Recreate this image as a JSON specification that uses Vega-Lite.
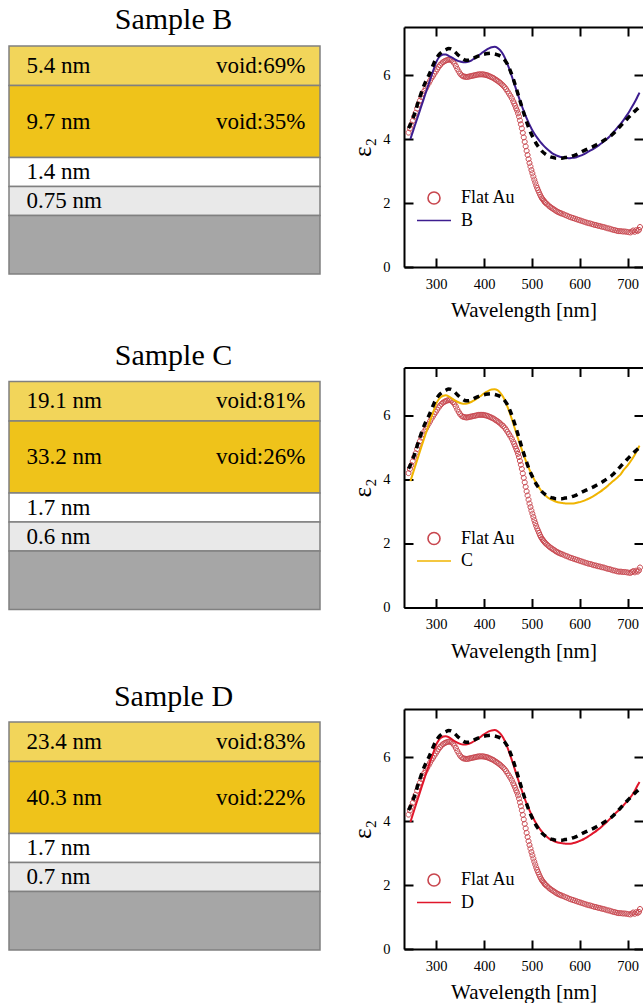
{
  "$schema": "https://vega.github.io/schema/vega-lite/v6.json",
  "padding": {"left": 8, "top": 5, "right": 0, "bottom": 0},
  "config": {
    "font": "Liberation Serif",
    "view": {"stroke": null},
    "axis": {"grid": false, "domainColor": "black", "tickColor": "black", "labelColor": "black", "titleColor": "black", "labelFont": "Liberation Serif", "titleFont": "Liberation Serif", "titleFontWeight": "normal", "labelFontSize": 14.5, "domainWidth": 2, "tickWidth": 2, "tickSize": -9, "labelFlush": false, "labelOverlap": false},
    "title": {"font": "Liberation Serif", "fontWeight": "normal", "fontSize": 30, "color": "black", "baseline": "alphabetic"},
    "text": {"font": "Liberation Serif", "color": "black"}
  },
  "datasets": {
    "layers": [
      {"sample": "B", "layer": "top EMA", "top": 0, "bottom": 39.5, "thickness": "5.4 nm", "void": "void:69%"},
      {"sample": "B", "layer": "EMA", "top": 39.5, "bottom": 111.5, "thickness": "9.7 nm", "void": "void:35%"},
      {"sample": "B", "layer": "film 1", "top": 111.5, "bottom": 140.5, "thickness": "1.4 nm"},
      {"sample": "B", "layer": "film 2", "top": 140.5, "bottom": 169.5, "thickness": "0.75 nm"},
      {"sample": "B", "layer": "substrate", "top": 169.5, "bottom": 228},
      {"sample": "C", "layer": "top EMA", "top": 0, "bottom": 39.5, "thickness": "19.1 nm", "void": "void:81%"},
      {"sample": "C", "layer": "EMA", "top": 39.5, "bottom": 111.5, "thickness": "33.2 nm", "void": "void:26%"},
      {"sample": "C", "layer": "film 1", "top": 111.5, "bottom": 140.5, "thickness": "1.7 nm"},
      {"sample": "C", "layer": "film 2", "top": 140.5, "bottom": 169.5, "thickness": "0.6 nm"},
      {"sample": "C", "layer": "substrate", "top": 169.5, "bottom": 228},
      {"sample": "D", "layer": "top EMA", "top": 0, "bottom": 39.5, "thickness": "23.4 nm", "void": "void:83%"},
      {"sample": "D", "layer": "EMA", "top": 39.5, "bottom": 111.5, "thickness": "40.3 nm", "void": "void:22%"},
      {"sample": "D", "layer": "film 1", "top": 111.5, "bottom": 140.5, "thickness": "1.7 nm"},
      {"sample": "D", "layer": "film 2", "top": 140.5, "bottom": 169.5, "thickness": "0.7 nm"},
      {"sample": "D", "layer": "substrate", "top": 169.5, "bottom": 228}
    ],
    "flat": [
      {"wl": 242, "eps": 4.2}, {"wl": 245, "eps": 4.33}, {"wl": 248, "eps": 4.45}, {"wl": 251, "eps": 4.57}, {"wl": 254, "eps": 4.7}, {"wl": 257, "eps": 4.82}, {"wl": 260, "eps": 4.95}, {"wl": 263, "eps": 5.08}, {"wl": 266, "eps": 5.2}, {"wl": 269, "eps": 5.31}, {"wl": 272, "eps": 5.41}, {"wl": 275, "eps": 5.5}, {"wl": 278, "eps": 5.58}, {"wl": 281, "eps": 5.66}, {"wl": 284, "eps": 5.74}, {"wl": 287, "eps": 5.82}, {"wl": 290, "eps": 5.9}, {"wl": 293, "eps": 5.97}, {"wl": 296, "eps": 6.04}, {"wl": 299, "eps": 6.11}, {"wl": 302, "eps": 6.18}, {"wl": 305, "eps": 6.25}, {"wl": 308, "eps": 6.31}, {"wl": 311, "eps": 6.36}, {"wl": 314, "eps": 6.4}, {"wl": 317, "eps": 6.43}, {"wl": 320, "eps": 6.45}, {"wl": 323, "eps": 6.47}, {"wl": 326, "eps": 6.48}, {"wl": 329, "eps": 6.48}, {"wl": 332, "eps": 6.46}, {"wl": 335, "eps": 6.42}, {"wl": 338, "eps": 6.36}, {"wl": 341, "eps": 6.28}, {"wl": 344, "eps": 6.19}, {"wl": 347, "eps": 6.11}, {"wl": 350, "eps": 6.04}, {"wl": 353, "eps": 5.99}, {"wl": 356, "eps": 5.96}, {"wl": 359, "eps": 5.95}, {"wl": 362, "eps": 5.94}, {"wl": 365, "eps": 5.94}, {"wl": 368, "eps": 5.95}, {"wl": 371, "eps": 5.96}, {"wl": 374, "eps": 5.97}, {"wl": 377, "eps": 5.98}, {"wl": 380, "eps": 5.99}, {"wl": 383, "eps": 6.0}, {"wl": 386, "eps": 6.01}, {"wl": 389, "eps": 6.02}, {"wl": 392, "eps": 6.02}, {"wl": 395, "eps": 6.02}, {"wl": 398, "eps": 6.02}, {"wl": 401, "eps": 6.01}, {"wl": 404, "eps": 6.0}, {"wl": 407, "eps": 5.99}, {"wl": 410, "eps": 5.97}, {"wl": 413, "eps": 5.95}, {"wl": 416, "eps": 5.93}, {"wl": 419, "eps": 5.91}, {"wl": 422, "eps": 5.88}, {"wl": 425, "eps": 5.85}, {"wl": 428, "eps": 5.82}, {"wl": 431, "eps": 5.79}, {"wl": 434, "eps": 5.75}, {"wl": 437, "eps": 5.71}, {"wl": 440, "eps": 5.67}, {"wl": 443, "eps": 5.62}, {"wl": 446, "eps": 5.56}, {"wl": 449, "eps": 5.49}, {"wl": 452, "eps": 5.42}, {"wl": 455, "eps": 5.35}, {"wl": 458, "eps": 5.27}, {"wl": 461, "eps": 5.18}, {"wl": 463, "eps": 5.11}, {"wl": 465, "eps": 5.04}, {"wl": 467, "eps": 4.96}, {"wl": 469, "eps": 4.89}, {"wl": 471, "eps": 4.8}, {"wl": 473, "eps": 4.7}, {"wl": 475, "eps": 4.58}, {"wl": 477, "eps": 4.46}, {"wl": 479, "eps": 4.33}, {"wl": 481, "eps": 4.19}, {"wl": 483, "eps": 4.05}, {"wl": 485, "eps": 3.91}, {"wl": 487, "eps": 3.77}, {"wl": 489, "eps": 3.63}, {"wl": 491, "eps": 3.5}, {"wl": 493, "eps": 3.37}, {"wl": 495, "eps": 3.25}, {"wl": 497, "eps": 3.14}, {"wl": 499, "eps": 3.03}, {"wl": 501, "eps": 2.93}, {"wl": 503, "eps": 2.83}, {"wl": 505, "eps": 2.73}, {"wl": 507, "eps": 2.64}, {"wl": 509, "eps": 2.55}, {"wl": 511, "eps": 2.47}, {"wl": 513, "eps": 2.4}, {"wl": 515, "eps": 2.33}, {"wl": 517, "eps": 2.26}, {"wl": 519, "eps": 2.2}, {"wl": 521, "eps": 2.15}, {"wl": 523, "eps": 2.11}, {"wl": 525, "eps": 2.07}, {"wl": 527, "eps": 2.03}, {"wl": 529, "eps": 2.0}, {"wl": 532, "eps": 1.96}, {"wl": 535, "eps": 1.92}, {"wl": 538, "eps": 1.88}, {"wl": 541, "eps": 1.85}, {"wl": 544, "eps": 1.82}, {"wl": 547, "eps": 1.79}, {"wl": 550, "eps": 1.76}, {"wl": 553, "eps": 1.73}, {"wl": 556, "eps": 1.71}, {"wl": 559, "eps": 1.69}, {"wl": 562, "eps": 1.67}, {"wl": 566, "eps": 1.65}, {"wl": 570, "eps": 1.62}, {"wl": 574, "eps": 1.6}, {"wl": 578, "eps": 1.57}, {"wl": 582, "eps": 1.55}, {"wl": 586, "eps": 1.53}, {"wl": 590, "eps": 1.51}, {"wl": 594, "eps": 1.49}, {"wl": 598, "eps": 1.47}, {"wl": 602, "eps": 1.45}, {"wl": 606, "eps": 1.43}, {"wl": 610, "eps": 1.41}, {"wl": 614, "eps": 1.39}, {"wl": 618, "eps": 1.37}, {"wl": 622, "eps": 1.36}, {"wl": 626, "eps": 1.34}, {"wl": 630, "eps": 1.32}, {"wl": 634, "eps": 1.31}, {"wl": 638, "eps": 1.29}, {"wl": 642, "eps": 1.28}, {"wl": 646, "eps": 1.26}, {"wl": 650, "eps": 1.25}, {"wl": 654, "eps": 1.23}, {"wl": 658, "eps": 1.21}, {"wl": 662, "eps": 1.2}, {"wl": 666, "eps": 1.18}, {"wl": 670, "eps": 1.16}, {"wl": 674, "eps": 1.15}, {"wl": 678, "eps": 1.13}, {"wl": 682, "eps": 1.12}, {"wl": 686, "eps": 1.12}, {"wl": 690, "eps": 1.11}, {"wl": 694, "eps": 1.11}, {"wl": 698, "eps": 1.1}, {"wl": 702, "eps": 1.09}, {"wl": 706, "eps": 1.08}, {"wl": 709, "eps": 1.11}, {"wl": 712, "eps": 1.14}, {"wl": 715, "eps": 1.1}, {"wl": 718, "eps": 1.15}, {"wl": 721, "eps": 1.12}, {"wl": 724, "eps": 1.16}, {"wl": 726, "eps": 1.25}
    ],
    "measured": [
      {"wl": 242, "eps": 4.34}, {"wl": 246, "eps": 4.45}, {"wl": 250, "eps": 4.6}, {"wl": 255, "eps": 4.8}, {"wl": 260, "eps": 5.05}, {"wl": 266, "eps": 5.32}, {"wl": 272, "eps": 5.58}, {"wl": 278, "eps": 5.8}, {"wl": 284, "eps": 5.98}, {"wl": 290, "eps": 6.18}, {"wl": 296, "eps": 6.4}, {"wl": 302, "eps": 6.56}, {"wl": 308, "eps": 6.67}, {"wl": 315, "eps": 6.75}, {"wl": 320, "eps": 6.79}, {"wl": 326, "eps": 6.83}, {"wl": 332, "eps": 6.81}, {"wl": 338, "eps": 6.74}, {"wl": 344, "eps": 6.65}, {"wl": 350, "eps": 6.57}, {"wl": 356, "eps": 6.5}, {"wl": 362, "eps": 6.46}, {"wl": 368, "eps": 6.46}, {"wl": 375, "eps": 6.5}, {"wl": 383, "eps": 6.56}, {"wl": 392, "eps": 6.62}, {"wl": 400, "eps": 6.65}, {"wl": 408, "eps": 6.67}, {"wl": 415, "eps": 6.68}, {"wl": 422, "eps": 6.66}, {"wl": 430, "eps": 6.62}, {"wl": 437, "eps": 6.56}, {"wl": 443, "eps": 6.47}, {"wl": 449, "eps": 6.33}, {"wl": 455, "eps": 6.13}, {"wl": 461, "eps": 5.88}, {"wl": 467, "eps": 5.6}, {"wl": 473, "eps": 5.3}, {"wl": 479, "eps": 5.0}, {"wl": 485, "eps": 4.72}, {"wl": 491, "eps": 4.45}, {"wl": 497, "eps": 4.22}, {"wl": 503, "eps": 4.03}, {"wl": 509, "eps": 3.86}, {"wl": 515, "eps": 3.73}, {"wl": 521, "eps": 3.62}, {"wl": 527, "eps": 3.54}, {"wl": 533, "eps": 3.48}, {"wl": 539, "eps": 3.44}, {"wl": 545, "eps": 3.42}, {"wl": 551, "eps": 3.4}, {"wl": 557, "eps": 3.4}, {"wl": 563, "eps": 3.4}, {"wl": 569, "eps": 3.42}, {"wl": 575, "eps": 3.43}, {"wl": 581, "eps": 3.45}, {"wl": 587, "eps": 3.48}, {"wl": 593, "eps": 3.51}, {"wl": 599, "eps": 3.56}, {"wl": 605, "eps": 3.61}, {"wl": 611, "eps": 3.65}, {"wl": 617, "eps": 3.69}, {"wl": 623, "eps": 3.73}, {"wl": 629, "eps": 3.77}, {"wl": 635, "eps": 3.82}, {"wl": 641, "eps": 3.87}, {"wl": 647, "eps": 3.92}, {"wl": 653, "eps": 3.98}, {"wl": 659, "eps": 4.04}, {"wl": 665, "eps": 4.1}, {"wl": 671, "eps": 4.18}, {"wl": 677, "eps": 4.27}, {"wl": 683, "eps": 4.37}, {"wl": 689, "eps": 4.47}, {"wl": 695, "eps": 4.56}, {"wl": 701, "eps": 4.66}, {"wl": 707, "eps": 4.75}, {"wl": 713, "eps": 4.84}, {"wl": 719, "eps": 4.92}, {"wl": 725, "eps": 5.0}
    ],
    "models": [
      {"sample": "B", "wl": 246, "eps": 4.0}, {"sample": "B", "wl": 252, "eps": 4.27}, {"sample": "B", "wl": 258, "eps": 4.54}, {"sample": "B", "wl": 264, "eps": 4.81}, {"sample": "B", "wl": 270, "eps": 5.08}, {"sample": "B", "wl": 276, "eps": 5.35}, {"sample": "B", "wl": 282, "eps": 5.62}, {"sample": "B", "wl": 288, "eps": 5.89}, {"sample": "B", "wl": 294, "eps": 6.15}, {"sample": "B", "wl": 300, "eps": 6.4}, {"sample": "B", "wl": 305, "eps": 6.54}, {"sample": "B", "wl": 310, "eps": 6.61}, {"sample": "B", "wl": 315, "eps": 6.64}, {"sample": "B", "wl": 320, "eps": 6.64}, {"sample": "B", "wl": 326, "eps": 6.6}, {"sample": "B", "wl": 332, "eps": 6.55}, {"sample": "B", "wl": 338, "eps": 6.5}, {"sample": "B", "wl": 344, "eps": 6.45}, {"sample": "B", "wl": 350, "eps": 6.42}, {"sample": "B", "wl": 356, "eps": 6.4}, {"sample": "B", "wl": 362, "eps": 6.4}, {"sample": "B", "wl": 368, "eps": 6.42}, {"sample": "B", "wl": 374, "eps": 6.46}, {"sample": "B", "wl": 380, "eps": 6.52}, {"sample": "B", "wl": 386, "eps": 6.58}, {"sample": "B", "wl": 392, "eps": 6.65}, {"sample": "B", "wl": 398, "eps": 6.72}, {"sample": "B", "wl": 404, "eps": 6.78}, {"sample": "B", "wl": 410, "eps": 6.83}, {"sample": "B", "wl": 416, "eps": 6.87}, {"sample": "B", "wl": 422, "eps": 6.88}, {"sample": "B", "wl": 428, "eps": 6.85}, {"sample": "B", "wl": 434, "eps": 6.77}, {"sample": "B", "wl": 440, "eps": 6.64}, {"sample": "B", "wl": 446, "eps": 6.45}, {"sample": "B", "wl": 452, "eps": 6.22}, {"sample": "B", "wl": 458, "eps": 5.96}, {"sample": "B", "wl": 464, "eps": 5.69}, {"sample": "B", "wl": 470, "eps": 5.42}, {"sample": "B", "wl": 476, "eps": 5.16}, {"sample": "B", "wl": 482, "eps": 4.91}, {"sample": "B", "wl": 488, "eps": 4.68}, {"sample": "B", "wl": 494, "eps": 4.48}, {"sample": "B", "wl": 500, "eps": 4.3}, {"sample": "B", "wl": 506, "eps": 4.15}, {"sample": "B", "wl": 512, "eps": 4.02}, {"sample": "B", "wl": 518, "eps": 3.9}, {"sample": "B", "wl": 524, "eps": 3.8}, {"sample": "B", "wl": 530, "eps": 3.71}, {"sample": "B", "wl": 536, "eps": 3.63}, {"sample": "B", "wl": 542, "eps": 3.56}, {"sample": "B", "wl": 548, "eps": 3.51}, {"sample": "B", "wl": 554, "eps": 3.47}, {"sample": "B", "wl": 560, "eps": 3.44}, {"sample": "B", "wl": 566, "eps": 3.42}, {"sample": "B", "wl": 572, "eps": 3.41}, {"sample": "B", "wl": 578, "eps": 3.4}, {"sample": "B", "wl": 584, "eps": 3.41}, {"sample": "B", "wl": 590, "eps": 3.42}, {"sample": "B", "wl": 596, "eps": 3.45}, {"sample": "B", "wl": 602, "eps": 3.48}, {"sample": "B", "wl": 608, "eps": 3.52}, {"sample": "B", "wl": 614, "eps": 3.57}, {"sample": "B", "wl": 620, "eps": 3.62}, {"sample": "B", "wl": 626, "eps": 3.67}, {"sample": "B", "wl": 632, "eps": 3.72}, {"sample": "B", "wl": 638, "eps": 3.78}, {"sample": "B", "wl": 644, "eps": 3.85}, {"sample": "B", "wl": 650, "eps": 3.92}, {"sample": "B", "wl": 656, "eps": 3.99}, {"sample": "B", "wl": 662, "eps": 4.07}, {"sample": "B", "wl": 668, "eps": 4.17}, {"sample": "B", "wl": 674, "eps": 4.27}, {"sample": "B", "wl": 680, "eps": 4.38}, {"sample": "B", "wl": 686, "eps": 4.48}, {"sample": "B", "wl": 692, "eps": 4.6}, {"sample": "B", "wl": 698, "eps": 4.73}, {"sample": "B", "wl": 704, "eps": 4.87}, {"sample": "B", "wl": 710, "eps": 5.02}, {"sample": "B", "wl": 716, "eps": 5.18}, {"sample": "B", "wl": 722, "eps": 5.36}, {"sample": "B", "wl": 725, "eps": 5.45},
      {"sample": "C", "wl": 246, "eps": 3.95}, {"sample": "C", "wl": 252, "eps": 4.23}, {"sample": "C", "wl": 258, "eps": 4.51}, {"sample": "C", "wl": 264, "eps": 4.79}, {"sample": "C", "wl": 270, "eps": 5.07}, {"sample": "C", "wl": 276, "eps": 5.34}, {"sample": "C", "wl": 282, "eps": 5.61}, {"sample": "C", "wl": 288, "eps": 5.87}, {"sample": "C", "wl": 294, "eps": 6.12}, {"sample": "C", "wl": 300, "eps": 6.37}, {"sample": "C", "wl": 305, "eps": 6.5}, {"sample": "C", "wl": 310, "eps": 6.58}, {"sample": "C", "wl": 315, "eps": 6.62}, {"sample": "C", "wl": 320, "eps": 6.63}, {"sample": "C", "wl": 326, "eps": 6.6}, {"sample": "C", "wl": 332, "eps": 6.54}, {"sample": "C", "wl": 338, "eps": 6.48}, {"sample": "C", "wl": 344, "eps": 6.43}, {"sample": "C", "wl": 350, "eps": 6.39}, {"sample": "C", "wl": 356, "eps": 6.37}, {"sample": "C", "wl": 362, "eps": 6.37}, {"sample": "C", "wl": 368, "eps": 6.39}, {"sample": "C", "wl": 374, "eps": 6.43}, {"sample": "C", "wl": 380, "eps": 6.48}, {"sample": "C", "wl": 386, "eps": 6.54}, {"sample": "C", "wl": 392, "eps": 6.6}, {"sample": "C", "wl": 398, "eps": 6.67}, {"sample": "C", "wl": 404, "eps": 6.73}, {"sample": "C", "wl": 410, "eps": 6.78}, {"sample": "C", "wl": 416, "eps": 6.81}, {"sample": "C", "wl": 422, "eps": 6.82}, {"sample": "C", "wl": 428, "eps": 6.79}, {"sample": "C", "wl": 434, "eps": 6.71}, {"sample": "C", "wl": 440, "eps": 6.58}, {"sample": "C", "wl": 446, "eps": 6.39}, {"sample": "C", "wl": 452, "eps": 6.15}, {"sample": "C", "wl": 458, "eps": 5.89}, {"sample": "C", "wl": 464, "eps": 5.61}, {"sample": "C", "wl": 470, "eps": 5.33}, {"sample": "C", "wl": 476, "eps": 5.06}, {"sample": "C", "wl": 482, "eps": 4.8}, {"sample": "C", "wl": 488, "eps": 4.56}, {"sample": "C", "wl": 494, "eps": 4.34}, {"sample": "C", "wl": 500, "eps": 4.14}, {"sample": "C", "wl": 506, "eps": 3.97}, {"sample": "C", "wl": 512, "eps": 3.82}, {"sample": "C", "wl": 518, "eps": 3.68}, {"sample": "C", "wl": 524, "eps": 3.57}, {"sample": "C", "wl": 530, "eps": 3.48}, {"sample": "C", "wl": 536, "eps": 3.41}, {"sample": "C", "wl": 542, "eps": 3.36}, {"sample": "C", "wl": 548, "eps": 3.32}, {"sample": "C", "wl": 554, "eps": 3.29}, {"sample": "C", "wl": 560, "eps": 3.27}, {"sample": "C", "wl": 566, "eps": 3.26}, {"sample": "C", "wl": 572, "eps": 3.25}, {"sample": "C", "wl": 578, "eps": 3.25}, {"sample": "C", "wl": 584, "eps": 3.25}, {"sample": "C", "wl": 590, "eps": 3.26}, {"sample": "C", "wl": 596, "eps": 3.28}, {"sample": "C", "wl": 602, "eps": 3.3}, {"sample": "C", "wl": 608, "eps": 3.33}, {"sample": "C", "wl": 614, "eps": 3.37}, {"sample": "C", "wl": 620, "eps": 3.41}, {"sample": "C", "wl": 626, "eps": 3.46}, {"sample": "C", "wl": 632, "eps": 3.51}, {"sample": "C", "wl": 638, "eps": 3.57}, {"sample": "C", "wl": 644, "eps": 3.63}, {"sample": "C", "wl": 650, "eps": 3.7}, {"sample": "C", "wl": 656, "eps": 3.77}, {"sample": "C", "wl": 662, "eps": 3.85}, {"sample": "C", "wl": 668, "eps": 3.93}, {"sample": "C", "wl": 674, "eps": 4.0}, {"sample": "C", "wl": 680, "eps": 4.08}, {"sample": "C", "wl": 686, "eps": 4.17}, {"sample": "C", "wl": 692, "eps": 4.3}, {"sample": "C", "wl": 698, "eps": 4.4}, {"sample": "C", "wl": 704, "eps": 4.52}, {"sample": "C", "wl": 710, "eps": 4.65}, {"sample": "C", "wl": 716, "eps": 4.8}, {"sample": "C", "wl": 722, "eps": 4.97}, {"sample": "C", "wl": 725, "eps": 5.06},
      {"sample": "D", "wl": 246, "eps": 3.97}, {"sample": "D", "wl": 252, "eps": 4.25}, {"sample": "D", "wl": 258, "eps": 4.53}, {"sample": "D", "wl": 264, "eps": 4.81}, {"sample": "D", "wl": 270, "eps": 5.09}, {"sample": "D", "wl": 276, "eps": 5.36}, {"sample": "D", "wl": 282, "eps": 5.63}, {"sample": "D", "wl": 288, "eps": 5.89}, {"sample": "D", "wl": 294, "eps": 6.14}, {"sample": "D", "wl": 300, "eps": 6.39}, {"sample": "D", "wl": 305, "eps": 6.52}, {"sample": "D", "wl": 310, "eps": 6.6}, {"sample": "D", "wl": 315, "eps": 6.64}, {"sample": "D", "wl": 320, "eps": 6.65}, {"sample": "D", "wl": 326, "eps": 6.62}, {"sample": "D", "wl": 332, "eps": 6.56}, {"sample": "D", "wl": 338, "eps": 6.5}, {"sample": "D", "wl": 344, "eps": 6.45}, {"sample": "D", "wl": 350, "eps": 6.41}, {"sample": "D", "wl": 356, "eps": 6.39}, {"sample": "D", "wl": 362, "eps": 6.39}, {"sample": "D", "wl": 368, "eps": 6.41}, {"sample": "D", "wl": 374, "eps": 6.45}, {"sample": "D", "wl": 380, "eps": 6.5}, {"sample": "D", "wl": 386, "eps": 6.56}, {"sample": "D", "wl": 392, "eps": 6.62}, {"sample": "D", "wl": 398, "eps": 6.69}, {"sample": "D", "wl": 404, "eps": 6.75}, {"sample": "D", "wl": 410, "eps": 6.8}, {"sample": "D", "wl": 416, "eps": 6.83}, {"sample": "D", "wl": 422, "eps": 6.84}, {"sample": "D", "wl": 428, "eps": 6.81}, {"sample": "D", "wl": 434, "eps": 6.73}, {"sample": "D", "wl": 440, "eps": 6.6}, {"sample": "D", "wl": 446, "eps": 6.41}, {"sample": "D", "wl": 452, "eps": 6.17}, {"sample": "D", "wl": 458, "eps": 5.91}, {"sample": "D", "wl": 464, "eps": 5.63}, {"sample": "D", "wl": 470, "eps": 5.35}, {"sample": "D", "wl": 476, "eps": 5.08}, {"sample": "D", "wl": 482, "eps": 4.82}, {"sample": "D", "wl": 488, "eps": 4.58}, {"sample": "D", "wl": 494, "eps": 4.37}, {"sample": "D", "wl": 500, "eps": 4.17}, {"sample": "D", "wl": 506, "eps": 4.0}, {"sample": "D", "wl": 512, "eps": 3.85}, {"sample": "D", "wl": 518, "eps": 3.72}, {"sample": "D", "wl": 524, "eps": 3.61}, {"sample": "D", "wl": 530, "eps": 3.52}, {"sample": "D", "wl": 536, "eps": 3.45}, {"sample": "D", "wl": 542, "eps": 3.4}, {"sample": "D", "wl": 548, "eps": 3.36}, {"sample": "D", "wl": 554, "eps": 3.33}, {"sample": "D", "wl": 560, "eps": 3.31}, {"sample": "D", "wl": 566, "eps": 3.3}, {"sample": "D", "wl": 572, "eps": 3.29}, {"sample": "D", "wl": 578, "eps": 3.29}, {"sample": "D", "wl": 584, "eps": 3.3}, {"sample": "D", "wl": 590, "eps": 3.32}, {"sample": "D", "wl": 596, "eps": 3.35}, {"sample": "D", "wl": 602, "eps": 3.39}, {"sample": "D", "wl": 608, "eps": 3.43}, {"sample": "D", "wl": 614, "eps": 3.48}, {"sample": "D", "wl": 620, "eps": 3.54}, {"sample": "D", "wl": 626, "eps": 3.6}, {"sample": "D", "wl": 632, "eps": 3.66}, {"sample": "D", "wl": 638, "eps": 3.73}, {"sample": "D", "wl": 644, "eps": 3.8}, {"sample": "D", "wl": 650, "eps": 3.88}, {"sample": "D", "wl": 656, "eps": 3.96}, {"sample": "D", "wl": 662, "eps": 4.05}, {"sample": "D", "wl": 668, "eps": 4.14}, {"sample": "D", "wl": 674, "eps": 4.23}, {"sample": "D", "wl": 680, "eps": 4.31}, {"sample": "D", "wl": 686, "eps": 4.4}, {"sample": "D", "wl": 692, "eps": 4.5}, {"sample": "D", "wl": 698, "eps": 4.6}, {"sample": "D", "wl": 704, "eps": 4.7}, {"sample": "D", "wl": 710, "eps": 4.82}, {"sample": "D", "wl": 716, "eps": 4.97}, {"sample": "D", "wl": 722, "eps": 5.14}, {"sample": "D", "wl": 725, "eps": 5.22}
    ]
  },
  "spacing": 19.5,
  "resolve": {"scale": {"color": "independent", "shape": "independent"}},
  "vconcat": [
    {
      "hconcat": [
        {
          "width": 311, "height": 247,
          "title": {"text": "Sample B", "offset": -8, "dx": 9},
          "data": {"name": "layers"},
          "transform": [{"filter": "datum.sample == 'B'"}],
          "layer": [
            {"mark": {"type": "rect", "stroke": "#808080", "strokeWidth": 1.5},
             "encoding": {
               "x": {"datum": 0, "type": "quantitative", "scale": {"domain": [0, 100], "nice": false, "zero": false}, "axis": null},
               "x2": {"datum": 100},
               "y": {"field": "top", "type": "quantitative", "scale": {"domain": [-19, 228], "reverse": true, "nice": false, "zero": false}, "axis": null},
               "y2": {"field": "bottom"},
               "fill": {"field": "layer", "type": "nominal", "scale": {"domain": ["top EMA", "EMA", "film 1", "film 2", "substrate"], "range": ["#f2d55a", "#efc31a", "#ffffff", "#e9e9e9", "#a6a6a6"]}, "legend": null}
             }},
            {"transform": [{"filter": "datum.thickness != null"}, {"fold": ["top", "bottom"], "as": ["edge", "depth"]}],
             "mark": {"type": "text", "align": "left", "baseline": "middle", "fontSize": 23, "font": "Liberation Serif", "color": "black"},
             "encoding": {
               "x": {"datum": 5.6, "type": "quantitative"},
               "y": {"aggregate": "mean", "field": "depth", "type": "quantitative"},
               "text": {"field": "thickness", "type": "nominal"},
               "detail": {"field": "layer", "type": "nominal"}
             }},
            {"transform": [{"filter": "datum.void != null"}, {"fold": ["top", "bottom"], "as": ["edge", "depth"]}],
             "mark": {"type": "text", "align": "right", "baseline": "middle", "fontSize": 23, "font": "Liberation Serif", "color": "black"},
             "encoding": {
               "x": {"datum": 95.3, "type": "quantitative"},
               "y": {"aggregate": "mean", "field": "depth", "type": "quantitative"},
               "text": {"field": "void", "type": "nominal"},
               "detail": {"field": "layer", "type": "nominal"}
             }}
          ]
        },
        {
          "width": 239, "height": 240,
          "layer": [
            {
              "data": {"name": "flat"},
              "mark": {"type": "point", "filled": false, "opacity": 1, "size": 70, "strokeWidth": 1},
              "encoding": {
                "x": {"field": "wl", "type": "quantitative", "scale": {"domain": [232.6, 732.3], "nice": false, "zero": false}, "axis": {"orient": "bottom", "values": [300, 400, 500, 600, 700], "title": "Wavelength [nm]", "titleFontSize": 21, "titlePadding": 9, "labelPadding": 19}},
                "y": {"field": "eps", "type": "quantitative", "scale": {"domain": [0, 7.5], "nice": false, "zero": false}, "axis": {"orient": "left", "values": [0, 2, 4, 6], "title": "ε₂", "titleFontSize": 25, "titlePadding": 7, "labelPadding": 23}},
                "color": {"datum": "Flat Au", "type": "nominal", "scale": {"domain": ["Flat Au", "B"], "range": ["#c8464e", "#3d1d8f"]}, "legend": {"title": null, "orient": "none", "legendX": 19, "legendY": 160, "labelFontSize": 18, "labelFont": "Liberation Serif", "labelColor": "black", "symbolSize": 400, "symbolStrokeWidth": 1.6, "rowPadding": 1.5, "labelOffset": 16, "padding": 0}},
                "shape": {"datum": "Flat Au", "type": "nominal", "scale": {"domain": ["Flat Au", "B"], "range": ["M-0.6,0A0.6,0.6,0,1,0,0.6,0A0.6,0.6,0,1,0,-0.6,0Z", "M-1.7,0L1.7,0"]}, "legend": {"title": null, "orient": "none", "legendX": 19, "legendY": 160, "labelFontSize": 18, "labelFont": "Liberation Serif", "labelColor": "black", "symbolSize": 400, "symbolStrokeWidth": 1.6, "rowPadding": 1.5, "labelOffset": 16, "padding": 0}}
              }
            },
            {
              "data": {"name": "models"},
              "transform": [{"filter": "datum.sample == 'B'"}],
              "mark": {"type": "line", "strokeWidth": 2, "interpolate": "monotone"},
              "encoding": {
                "x": {"field": "wl", "type": "quantitative", "axis": null},
                "y": {"field": "eps", "type": "quantitative", "axis": null},
                "color": {"field": "sample", "type": "nominal", "legend": null}
              }
            },
            {
              "data": {"name": "measured"},
              "mark": {"type": "line", "color": "black", "strokeWidth": 3.5, "strokeDash": [6, 5], "interpolate": "monotone"},
              "encoding": {
                "x": {"field": "wl", "type": "quantitative", "axis": {"orient": "top", "values": [300, 400, 500, 600, 700], "labels": false, "title": null}},
                "y": {"field": "eps", "type": "quantitative", "axis": {"orient": "right", "values": [0, 2, 4, 6], "labels": false, "title": null, "domain": false}}
              }
            }
          ]
        }
      ],
      "spacing": 84,
      "bounds": "flush",
      "resolve": {"scale": {"color": "independent", "shape": "independent"}}
    },
    {
      "hconcat": [
        {
          "width": 311, "height": 242,
          "title": {"text": "Sample C", "offset": -3.2, "dx": 9},
          "data": {"name": "layers"},
          "transform": [{"filter": "datum.sample == 'C'"}],
          "layer": [
            {"mark": {"type": "rect", "stroke": "#808080", "strokeWidth": 1.5},
             "encoding": {
               "x": {"datum": 0, "type": "quantitative", "scale": {"domain": [0, 100], "nice": false, "zero": false}, "axis": null},
               "x2": {"datum": 100},
               "y": {"field": "top", "type": "quantitative", "scale": {"domain": [-14, 228], "reverse": true, "nice": false, "zero": false}, "axis": null},
               "y2": {"field": "bottom"},
               "fill": {"field": "layer", "type": "nominal", "scale": {"domain": ["top EMA", "EMA", "film 1", "film 2", "substrate"], "range": ["#f2d55a", "#efc31a", "#ffffff", "#e9e9e9", "#a6a6a6"]}, "legend": null}
             }},
            {"transform": [{"filter": "datum.thickness != null"}, {"fold": ["top", "bottom"], "as": ["edge", "depth"]}],
             "mark": {"type": "text", "align": "left", "baseline": "middle", "fontSize": 23, "font": "Liberation Serif", "color": "black"},
             "encoding": {
               "x": {"datum": 5.6, "type": "quantitative"},
               "y": {"aggregate": "mean", "field": "depth", "type": "quantitative"},
               "text": {"field": "thickness", "type": "nominal"},
               "detail": {"field": "layer", "type": "nominal"}
             }},
            {"transform": [{"filter": "datum.void != null"}, {"fold": ["top", "bottom"], "as": ["edge", "depth"]}],
             "mark": {"type": "text", "align": "right", "baseline": "middle", "fontSize": 23, "font": "Liberation Serif", "color": "black"},
             "encoding": {
               "x": {"datum": 95.3, "type": "quantitative"},
               "y": {"aggregate": "mean", "field": "depth", "type": "quantitative"},
               "text": {"field": "void", "type": "nominal"},
               "detail": {"field": "layer", "type": "nominal"}
             }}
          ]
        },
        {
          "width": 239, "height": 240,
          "layer": [
            {
              "data": {"name": "flat"},
              "mark": {"type": "point", "filled": false, "opacity": 1, "size": 70, "strokeWidth": 1},
              "encoding": {
                "x": {"field": "wl", "type": "quantitative", "scale": {"domain": [232.6, 732.3], "nice": false, "zero": false}, "axis": {"orient": "bottom", "values": [300, 400, 500, 600, 700], "title": "Wavelength [nm]", "titleFontSize": 21, "titlePadding": 9, "labelPadding": 19}},
                "y": {"field": "eps", "type": "quantitative", "scale": {"domain": [0, 7.5], "nice": false, "zero": false}, "axis": {"orient": "left", "values": [0, 2, 4, 6], "title": "ε₂", "titleFontSize": 25, "titlePadding": 7, "labelPadding": 23}},
                "color": {"datum": "Flat Au", "type": "nominal", "scale": {"domain": ["Flat Au", "C"], "range": ["#c8464e", "#f0b400"]}, "legend": {"title": null, "orient": "none", "legendX": 19, "legendY": 160, "labelFontSize": 18, "labelFont": "Liberation Serif", "labelColor": "black", "symbolSize": 400, "symbolStrokeWidth": 1.6, "rowPadding": 1.5, "labelOffset": 16, "padding": 0}},
                "shape": {"datum": "Flat Au", "type": "nominal", "scale": {"domain": ["Flat Au", "C"], "range": ["M-0.6,0A0.6,0.6,0,1,0,0.6,0A0.6,0.6,0,1,0,-0.6,0Z", "M-1.7,0L1.7,0"]}, "legend": {"title": null, "orient": "none", "legendX": 19, "legendY": 160, "labelFontSize": 18, "labelFont": "Liberation Serif", "labelColor": "black", "symbolSize": 400, "symbolStrokeWidth": 1.6, "rowPadding": 1.5, "labelOffset": 16, "padding": 0}}
              }
            },
            {
              "data": {"name": "models"},
              "transform": [{"filter": "datum.sample == 'C'"}],
              "mark": {"type": "line", "strokeWidth": 2, "interpolate": "monotone"},
              "encoding": {
                "x": {"field": "wl", "type": "quantitative", "axis": null},
                "y": {"field": "eps", "type": "quantitative", "axis": null},
                "color": {"field": "sample", "type": "nominal", "legend": null}
              }
            },
            {
              "data": {"name": "measured"},
              "mark": {"type": "line", "color": "black", "strokeWidth": 3.5, "strokeDash": [6, 5], "interpolate": "monotone"},
              "encoding": {
                "x": {"field": "wl", "type": "quantitative", "axis": {"orient": "top", "values": [300, 400, 500, 600, 700], "labels": false, "title": null}},
                "y": {"field": "eps", "type": "quantitative", "axis": {"orient": "right", "values": [0, 2, 4, 6], "labels": false, "title": null, "domain": false}}
              }
            }
          ]
        }
      ],
      "spacing": 84,
      "bounds": "flush",
      "resolve": {"scale": {"color": "independent", "shape": "independent"}}
    },
    {
      "hconcat": [
        {
          "width": 311, "height": 241,
          "title": {"text": "Sample D", "offset": -2.5, "dx": 9},
          "data": {"name": "layers"},
          "transform": [{"filter": "datum.sample == 'D'"}],
          "layer": [
            {"mark": {"type": "rect", "stroke": "#808080", "strokeWidth": 1.5},
             "encoding": {
               "x": {"datum": 0, "type": "quantitative", "scale": {"domain": [0, 100], "nice": false, "zero": false}, "axis": null},
               "x2": {"datum": 100},
               "y": {"field": "top", "type": "quantitative", "scale": {"domain": [-13, 228], "reverse": true, "nice": false, "zero": false}, "axis": null},
               "y2": {"field": "bottom"},
               "fill": {"field": "layer", "type": "nominal", "scale": {"domain": ["top EMA", "EMA", "film 1", "film 2", "substrate"], "range": ["#f2d55a", "#efc31a", "#ffffff", "#e9e9e9", "#a6a6a6"]}, "legend": null}
             }},
            {"transform": [{"filter": "datum.thickness != null"}, {"fold": ["top", "bottom"], "as": ["edge", "depth"]}],
             "mark": {"type": "text", "align": "left", "baseline": "middle", "fontSize": 23, "font": "Liberation Serif", "color": "black"},
             "encoding": {
               "x": {"datum": 5.6, "type": "quantitative"},
               "y": {"aggregate": "mean", "field": "depth", "type": "quantitative"},
               "text": {"field": "thickness", "type": "nominal"},
               "detail": {"field": "layer", "type": "nominal"}
             }},
            {"transform": [{"filter": "datum.void != null"}, {"fold": ["top", "bottom"], "as": ["edge", "depth"]}],
             "mark": {"type": "text", "align": "right", "baseline": "middle", "fontSize": 23, "font": "Liberation Serif", "color": "black"},
             "encoding": {
               "x": {"datum": 95.3, "type": "quantitative"},
               "y": {"aggregate": "mean", "field": "depth", "type": "quantitative"},
               "text": {"field": "void", "type": "nominal"},
               "detail": {"field": "layer", "type": "nominal"}
             }}
          ]
        },
        {
          "width": 239, "height": 240,
          "layer": [
            {
              "data": {"name": "flat"},
              "mark": {"type": "point", "filled": false, "opacity": 1, "size": 70, "strokeWidth": 1},
              "encoding": {
                "x": {"field": "wl", "type": "quantitative", "scale": {"domain": [232.6, 732.3], "nice": false, "zero": false}, "axis": {"orient": "bottom", "values": [300, 400, 500, 600, 700], "title": "Wavelength [nm]", "titleFontSize": 21, "titlePadding": 9, "labelPadding": 19}},
                "y": {"field": "eps", "type": "quantitative", "scale": {"domain": [0, 7.5], "nice": false, "zero": false}, "axis": {"orient": "left", "values": [0, 2, 4, 6], "title": "ε₂", "titleFontSize": 25, "titlePadding": 7, "labelPadding": 23}},
                "color": {"datum": "Flat Au", "type": "nominal", "scale": {"domain": ["Flat Au", "D"], "range": ["#c8464e", "#e0162b"]}, "legend": {"title": null, "orient": "none", "legendX": 19, "legendY": 160, "labelFontSize": 18, "labelFont": "Liberation Serif", "labelColor": "black", "symbolSize": 400, "symbolStrokeWidth": 1.6, "rowPadding": 1.5, "labelOffset": 16, "padding": 0}},
                "shape": {"datum": "Flat Au", "type": "nominal", "scale": {"domain": ["Flat Au", "D"], "range": ["M-0.6,0A0.6,0.6,0,1,0,0.6,0A0.6,0.6,0,1,0,-0.6,0Z", "M-1.7,0L1.7,0"]}, "legend": {"title": null, "orient": "none", "legendX": 19, "legendY": 160, "labelFontSize": 18, "labelFont": "Liberation Serif", "labelColor": "black", "symbolSize": 400, "symbolStrokeWidth": 1.6, "rowPadding": 1.5, "labelOffset": 16, "padding": 0}}
              }
            },
            {
              "data": {"name": "models"},
              "transform": [{"filter": "datum.sample == 'D'"}],
              "mark": {"type": "line", "strokeWidth": 2, "interpolate": "monotone"},
              "encoding": {
                "x": {"field": "wl", "type": "quantitative", "axis": null},
                "y": {"field": "eps", "type": "quantitative", "axis": null},
                "color": {"field": "sample", "type": "nominal", "legend": null}
              }
            },
            {
              "data": {"name": "measured"},
              "mark": {"type": "line", "color": "black", "strokeWidth": 3.5, "strokeDash": [6, 5], "interpolate": "monotone"},
              "encoding": {
                "x": {"field": "wl", "type": "quantitative", "axis": {"orient": "top", "values": [300, 400, 500, 600, 700], "labels": false, "title": null}},
                "y": {"field": "eps", "type": "quantitative", "axis": {"orient": "right", "values": [0, 2, 4, 6], "labels": false, "title": null, "domain": false}}
              }
            }
          ]
        }
      ],
      "spacing": 84,
      "bounds": "flush",
      "resolve": {"scale": {"color": "independent", "shape": "independent"}}
    }
  ]
}
